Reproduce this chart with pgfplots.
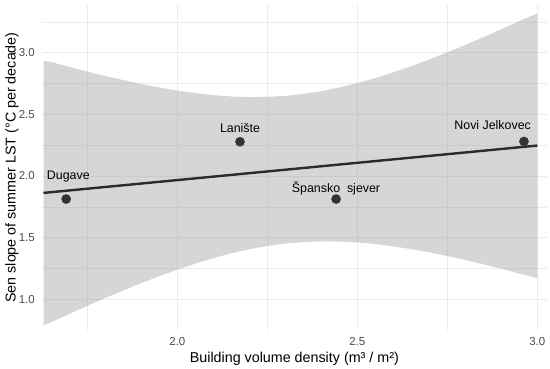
\documentclass[border=0pt]{standalone}
\usepackage{pgfplots}
\pgfplotsset{compat=1.18}
\usepackage{pgfplotstable}
\usepgfplotslibrary{fillbetween}
\usepackage{fontspec}
\setmainfont{Liberation Sans}
\definecolor{gridc}{HTML}{EBEBEB}
\definecolor{tickc}{HTML}{4D4D4D}
\definecolor{ribc}{HTML}{999999}
\definecolor{ptc}{HTML}{333333}
\definecolor{linec}{HTML}{2B2B2B}

\pgfplotstableread{
x y
1.691 1.813
2.174 2.278
2.441 1.813
2.963 2.280
}\pts

\pgfplotstableread{
x fit lo up
1.628 1.863 0.790 2.935
1.650 1.869 0.814 2.924
1.700 1.883 0.882 2.885
1.750 1.897 0.947 2.847
1.800 1.911 1.011 2.811
1.850 1.925 1.072 2.778
1.900 1.939 1.132 2.746
1.950 1.953 1.188 2.718
2.000 1.967 1.241 2.693
2.050 1.981 1.289 2.673
2.100 1.995 1.334 2.656
2.150 2.009 1.373 2.645
2.200 2.023 1.406 2.640
2.250 2.037 1.432 2.642
2.300 2.051 1.452 2.650
2.350 2.065 1.464 2.666
2.400 2.079 1.470 2.688
2.450 2.093 1.468 2.718
2.500 2.107 1.461 2.753
2.550 2.121 1.448 2.794
2.600 2.135 1.429 2.841
2.650 2.149 1.407 2.891
2.700 2.163 1.381 2.946
2.750 2.177 1.351 3.003
2.800 2.191 1.319 3.063
2.850 2.205 1.284 3.126
2.900 2.219 1.248 3.190
2.950 2.233 1.209 3.257
3.000 2.247 1.172 3.318
}\band

\begin{document}
\begin{tikzpicture}
\begin{axis}[
  at={(41.7bp,39bp)}, anchor=south west,
  scale only axis, width=505.3bp, height=325bp,
  xmin=1.623, xmax=3.027, ymin=0.751, ymax=3.387,
  xtick={2.0,2.5,3.0}, ytick={1.0,1.5,2.0,2.5,3.0},
  minor xtick={1.75,2.25,2.75}, minor ytick={0.75,1.25,1.75,2.25,2.75,3.25},
  grid=both,
  major grid style={draw=gridc, line width=0.9bp},
  minor grid style={draw=gridc, line width=0.5bp},
  axis line style={draw=none},
  major tick length=0pt, minor tick length=0pt,
  /pgf/number format/assume math mode=true,
  /pgf/number format/.cd, fixed, fixed zerofill, precision=1, /pgfplots/.cd,
  ticklabel style={font=\fontsize{11.5bp}{13bp}\selectfont, text=tickc},
  xticklabel style={anchor=center, yshift=-12bp},
  yticklabel style={anchor=east, inner sep=0pt, xshift=-6.7bp},
  xlabel={Building volume density (m³ / m²)},
  ylabel={Sen slope of summer LST (°C per decade)},
  label style={font=\fontsize{14.3bp}{16bp}\selectfont},
  xlabel style={at={(axis description cs:0.5,-0.0871)}, anchor=center},
  ylabel style={at={(axis description cs:-0.0588,0.5)}, anchor=center},
  clip=false,
]
\addplot[name path=up, draw=none, forget plot] table[x=x, y=up] {\band};
\addplot[name path=lo, draw=none, forget plot] table[x=x, y=lo] {\band};
\addplot[fill=ribc, fill opacity=0.4, draw=none] fill between[of=up and lo];
\addplot[linec, line width=2.4bp, no marks] table[x=x, y=fit] {\band};
\addplot[only marks, mark=*, mark size=4.6bp, mark options={fill=ptc, draw=ptc}] table[x=x, y=y] {\pts};
\begin{scope}[every node/.style={font=\fontsize{12.4bp}{14bp}\selectfont, anchor=center, inner sep=0pt}]
\node at (axis cs:1.697,1.994) {Dugave};
\node at (axis cs:2.174,2.387) {Lanište};
\node at (axis cs:2.4408,1.903) {Špansko\ \ sjever};
\node at (axis cs:2.876,2.414) {Novi Jelkovec};
\end{scope}
\end{axis}
\pgfresetboundingbox
\path[use as bounding box] (0,0) rectangle (550bp,369bp);
\end{tikzpicture}
\end{document}
